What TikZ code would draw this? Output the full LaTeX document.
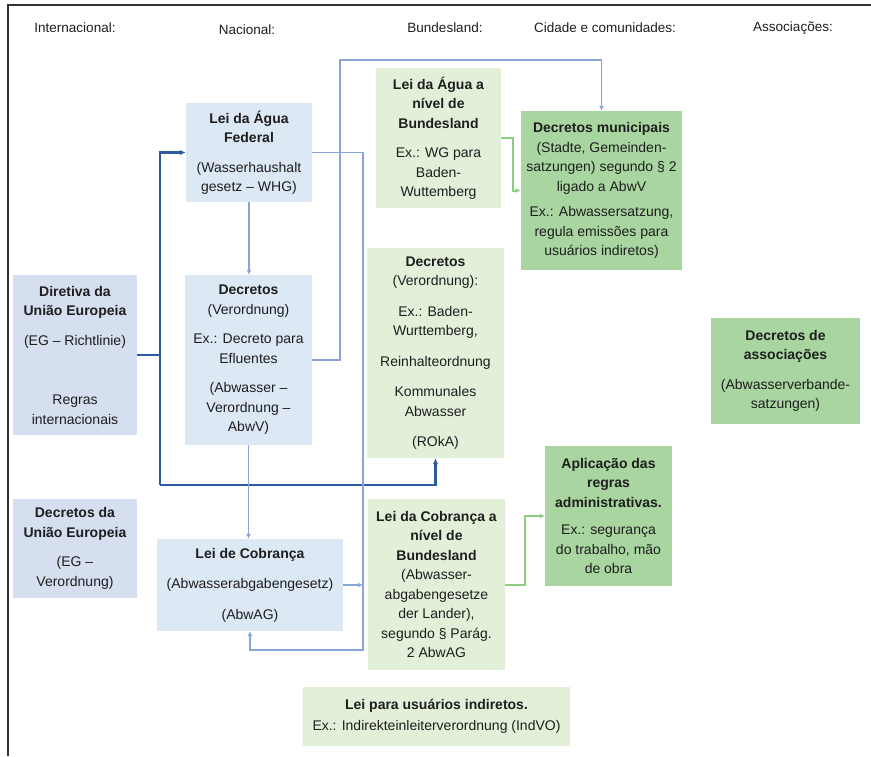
\documentclass[tikz,border=0pt]{standalone}
\usepackage{fontspec}
\setmainfont{Liberation Sans}
\usetikzlibrary{arrows.meta}
\definecolor{bxblue}{RGB}{221,232,245}
\definecolor{bxblue2}{RGB}{214,223,240}
\definecolor{bxlgreen}{RGB}{226,240,218}
\definecolor{bxmgreen}{RGB}{168,213,160}
\definecolor{lnblue}{RGB}{137,164,214}
\definecolor{lndblue}{RGB}{47,90,160}
\definecolor{lngreen}{RGB}{140,205,130}
\definecolor{txt}{RGB}{30,30,30}
\definecolor{framecol}{RGB}{50,50,50}
\begin{document}
\begin{tikzpicture}[x=1pt,y=-1pt,
  box/.style={draw=none,align=center,inner sep=0pt,text=txt,font=\fontsize{14}{19.5}\selectfont},
  bluebox/.style={box,fill=bxblue},
  bluebox2/.style={box,fill=bxblue2},
  lgbox/.style={box,fill=bxlgreen},
  mgbox/.style={box,fill=bxmgreen},
  hdr/.style={text=txt,font=\fontsize{13.5}{16}\selectfont,inner sep=0pt},
  dline/.style={draw=lndblue,line width=2.6pt,-{Latex[length=6pt,width=5.5pt]}},
  lline/.style={draw=lnblue,line width=1.9pt,-{Latex[length=5pt,width=5pt]}},
  gline/.style={draw=lngreen,line width=2pt,-{Latex[length=5pt,width=5pt]}},
  frameline/.style={draw=framecol,line width=1.4pt}
]
\useasboundingbox (0,0) rectangle (871,756);
\draw[frameline] (8,756) -- (8,5) -- (871,5);

% headers
\node[hdr] (h1) at (75,28) {Internacional:};
\node[hdr] (h2) at (247,30) {Nacional:};
\node[hdr] (h3) at (445,28) {Bundesland:};
\node[hdr] (h4) at (605,28) {Cidade e comunidades:};
\node[hdr] (h5) at (793,28) {Associações:};

% boxes
\node[bluebox2,minimum width=124pt,minimum height=160pt] (dir) at (75,355)
  {\textbf{Diretiva da}\\\textbf{União Europeia}\\[10pt](EG – Richtlinie)\\[40pt]Regras\\internacionais};
\node[bluebox,minimum width=127pt,minimum height=170pt] (abwv) at (248.5,360)
  {\textbf{Decretos}\\(Verordnung)\\[10pt]Ex.: Decreto para\\Efluentes\\[10pt](Abwasser –\\Verordnung –\\AbwV)};
\node[bluebox,minimum width=126pt,minimum height=99pt] (fed) at (249,152.5)
  {\textbf{Lei da Água}\\\textbf{Federal}\\[10pt](Wasserhaushalt\\gesetz – WHG)};
\node[lgbox,minimum width=125pt,minimum height=140pt] (wgbl) at (438.5,138)
  {\textbf{Lei da Água a}\\\textbf{nível de}\\\textbf{Bundesland}\\[10pt]Ex.: WG para\\Baden-\\Wuttemberg};
\node[mgbox,minimum width=161pt,minimum height=159pt] (mun) at (601.5,190.5)
  {\textbf{Decretos municipais}\\(Stadte, Gemeinden-\\satzungen) segundo § 2\\ligado a AbwV\\[6pt]Ex.: Abwassersatzung,\\regula emissões para\\usuários indiretos)};
\node[lgbox,minimum width=137pt,minimum height=210pt] (verbl) at (435.5,353)
  {\textbf{Decretos}\\(Verordnung):\\[11pt]Ex.: Baden-\\Wurttemberg,\\[11pt]Reinhalteordnung\\[11pt]Kommunales\\Abwasser\\[11pt](ROkA)};
\node[mgbox,minimum width=127pt,minimum height=140pt] (apl) at (608.5,516)
  {\textbf{Aplicação das}\\\textbf{regras}\\\textbf{administrativas.}\\[8pt]Ex.: segurança\\do trabalho, mão\\de obra};
\node[lgbox,minimum width=137pt,minimum height=171pt] (cobbl) at (436.5,584.5)
  {\textbf{Lei da Cobrança a}\\\textbf{nível de}\\\textbf{Bundesland}\\(Abwasser-\\abgabengesetze\\der Lander),\\segundo § Parág.\\2 AbwAG};
\node[bluebox,minimum width=186pt,minimum height=92pt] (cob) at (250,585)
  {\textbf{Lei de Cobrança}\\[11pt](Abwasserabgabengesetz)\\[11pt](AbwAG)};
\node[bluebox2,minimum width=124pt,minimum height=99pt] (euvo) at (75,548.5)
  {\textbf{Decretos da}\\\textbf{União Europeia}\\[10pt](EG –\\Verordnung)};
\node[mgbox,minimum width=149pt,minimum height=106pt] (assoc) at (785.5,371)
  {\textbf{Decretos de}\\\textbf{associações}\\[10pt](Abwasserverbande-\\satzungen)};
\node[lgbox,minimum width=267pt,minimum height=59pt] (indir) at (436.5,716.5)
  {\textbf{Lei para usuários indiretos.}\\[2pt]Ex.: Indirekteinleiterverordnung (IndVO)};

% junction coordinates
\coordinate (bx) at (160,485);
\coordinate (rv) at (363,650);
\coordinate (tl) at (340,60);

% dark blue connectors
\draw[draw=lndblue,line width=2.6pt] (dir.east) -- (dir.east -| bx);
\draw[dline] (bx) |- (fed.west);
\draw[dline] (bx) -| (verbl.south);

% light blue connectors
\draw[lline] (fed.south) -- (fed.south |- abwv.north);
\draw[lline] (abwv.south) -- (abwv.south |- cob.north);
\draw[lline] (fed.east) -| (rv) -| (cob.south);
\draw[lline] (cob.east) -- (cob.east -| rv);
\draw[lline] (abwv.east) -| (tl) -| (mun.north);

% green connectors
\draw[gline] (wgbl.east) -- ++(12,0) |- (mun.west);
\draw[gline] (cobbl.east) -- ++(20,0) |- (apl.west);
\end{tikzpicture}
\end{document}
